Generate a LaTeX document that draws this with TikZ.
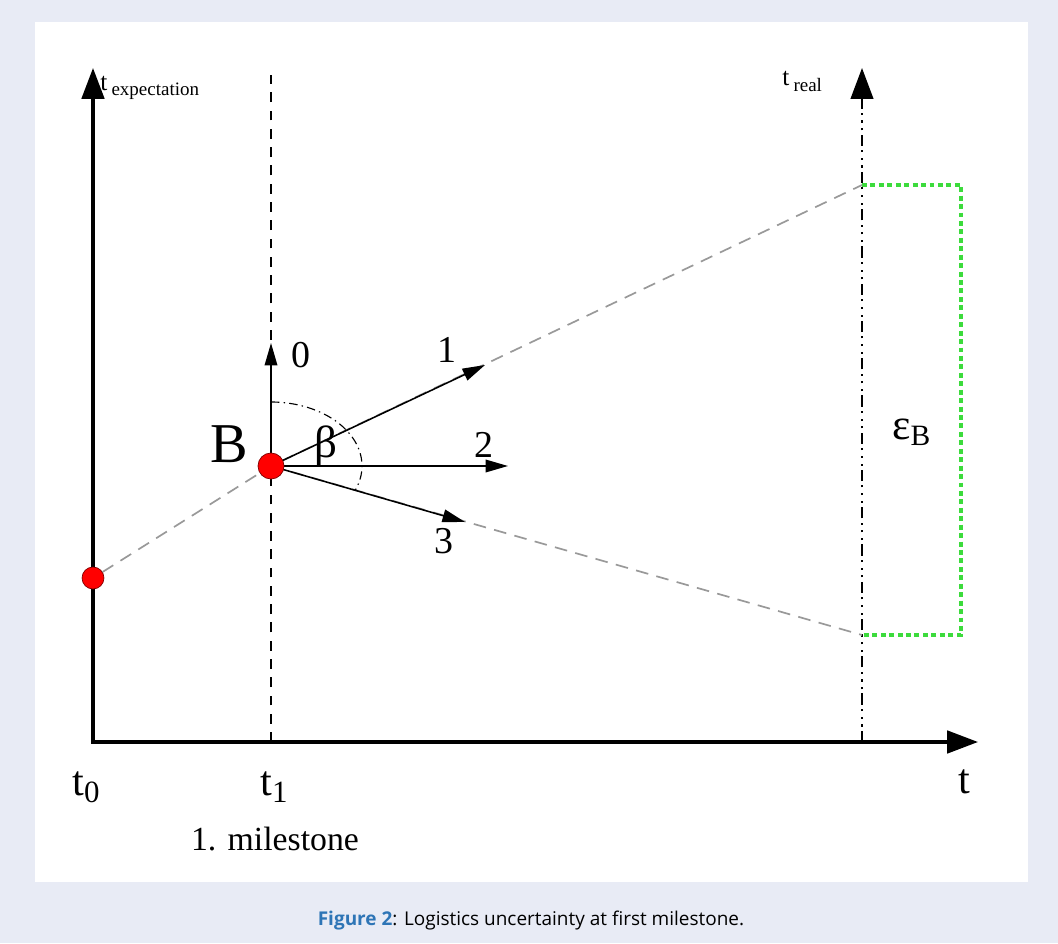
\documentclass[tikz,border=0pt]{standalone}
\usepackage{fontspec}
\setmainfont{Liberation Serif}
\newfontfamily\capfont{Open Sans}
\usetikzlibrary{arrows.meta,positioning}
\definecolor{panelbg}{HTML}{E8EBF5}
\definecolor{boxgreen}{HTML}{3CDB3C}
\definecolor{figblue}{HTML}{2E75B6}
\begin{document}
\begin{tikzpicture}[x=0.025cm,y=0.025cm,
    axis/.style={line width=2.4pt,line join=miter,
        {Triangle[length=22pt,width=16pt]}-{Triangle[length=22pt,width=16pt]}},
    realaxis/.style={line width=1.8pt,-{Triangle[length=22pt,width=16pt]},
        dash pattern=on 8pt off 3pt on 1.5pt off 4pt on 1.5pt off 4pt on 1.5pt off 3pt},
    ray/.style={line width=1.1pt,-{Triangle[length=16pt,width=9pt]}},
    guide/.style={gray!80,line width=1.2pt,dash pattern=on 9pt off 6pt},
    dot/.style={circle,draw=red!50!black,line width=0.5pt,fill=red,inner sep=0pt,minimum size=#1},
    lbl/.style={font=\fontsize{27}{27}\selectfont,inner sep=0pt,anchor=base},
    small/.style={inner sep=0pt,anchor=base west}
  ]

  % background and panel
  \fill[panelbg] (0,0) rectangle (1058,943);
  \fill[white] (35,61) rectangle (1028,921);

  % axes
  \coordinate (O) at (93,201);
  \coordinate (ytip) at (93,875);
  \coordinate (xtip) at (978,201);
  \draw[axis] (ytip) -- (O) -- (xtip);

  % milestone and real time lines
  \coordinate (t1bot) at (271,201);
  \coordinate (t1top) at (271,868);
  \draw[line width=1.4pt,dash pattern=on 7pt off 6pt] (t1bot) -- (t1top);
  \coordinate (rbot) at (862,201);
  \coordinate (rtip) at (862,875);
  \draw[realaxis] (rbot) -- (rtip);

  % uncertainty interval
  \coordinate (hi) at (862,758);
  \coordinate (lo) at (862,308);
  \coordinate (hiR) at (961,758);
  \coordinate (loR) at (961,308);
  \draw[boxgreen,line width=2.2pt,dash pattern=on 3.5pt off 2.5pt] (hi) -- (hiR) -- (loR) -- (lo);

  % points
  \node[dot=15.6pt] (P0) at (93,365) {};
  \coordinate (Bc) at (271,477);
  \draw[guide] (P0) -- (Bc) -- (hi);
  \draw[guide] (Bc) -- (lo);

  % directions from B
  \coordinate (d0) at (271,600);
  \coordinate (d1) at (485,578);
  \coordinate (d2) at (508,477);
  \coordinate (d3) at (465,421);
  \draw[ray] (Bc) -- (d0);
  \draw[ray] (Bc) -- (d1);
  \draw[ray] (Bc) -- (d2);
  \draw[ray] (Bc) -- (d3);

  % angle beta
  \coordinate (arcstart) at (271,541);
  \draw[line width=0.8pt,dash pattern=on 6pt off 3pt on 1pt off 3pt]
    (arcstart) arc[start angle=90,end angle=-22,x radius=91,y radius=64];

  \node[dot=18.5pt] (B) at (Bc) {};

  % labels
  \node[lbl] (l0) at (301,575) {0};
  \node[lbl] (l1) at (447,580) {1};
  \node[lbl] (l2) at (484,485) {2};
  \node[lbl] (l3) at (444,390) {3};
  \node[lbl,font=\fontsize{40}{40}\selectfont] (lB) at (229,481) {B};
  \node[lbl,font=\fontsize{32}{32}\selectfont] (lbeta) at (326,485) {β};
  \node[small,font=\fontsize{31}{31}\selectfont] (eps) at (892,503)
    {ε\raisebox{-4pt}{\fontsize{21}{21}\selectfont B}};

  \node[small,font=\fontsize{18}{18}\selectfont] (texp) at (100,852)
    {t\hspace{3pt}\raisebox{-3pt}{\fontsize{13.5}{13.5}\selectfont expectation}};
  \node[small,font=\fontsize{18}{18}\selectfont] (treal) at (782,857)
    {t\hspace{3pt}\raisebox{-4pt}{\fontsize{13.5}{13.5}\selectfont real}};

  \node[small,font=\fontsize{30}{30}\selectfont] (t0) at (72,148)
    {t\raisebox{-5pt}{\fontsize{22}{22}\selectfont 0}};
  \node[small,font=\fontsize{30}{30}\selectfont] (t1) at (260,148)
    {t\raisebox{-5pt}{\fontsize{22}{22}\selectfont 1}};
  \node[lbl,font=\fontsize{24}{24}\selectfont] (ms) at (275,93) {1. milestone};
  \node[lbl,font=\fontsize{30}{30}\selectfont] (tx) at (964,150) {t};

  % caption
  \node[lbl,font=\capfont\fontsize{13.5}{13.5}\selectfont] (cap) at (531,18)
    {\textbf{\color{figblue}Figure 2}: Logistics uncertainty at first milestone.};
\end{tikzpicture}
\end{document}
